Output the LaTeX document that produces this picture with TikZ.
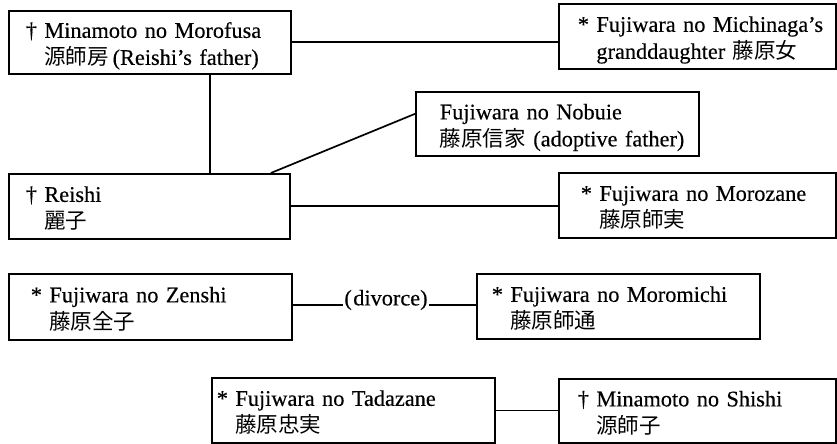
\documentclass[tikz,border=0pt]{standalone}
\usepackage{fontspec}
\setmainfont{Liberation Serif}[FakeBold=0.35]
\newfontfamily\cjkfont{Noto Sans CJK JP}
\newcommand\J[1]{{\cjkfont\fontsize{21.5bp}{27bp}\selectfont #1}}
\newcommand\topst{\rule{0pt}{24bp}}
\newcommand\botst{\rule[-6bp]{0pt}{6bp}}
\begin{document}
\begin{tikzpicture}[x=1bp,y=-1bp,
  person/.style n args={4}{draw, line width=1.7bp, rectangle, anchor=north west,
    inner xsep=#3, inner ysep=0pt, text width=#4, minimum height=#2, align=left,
    font=\fontsize{22.3bp}{27bp}\selectfont},
  link/.style={line width=1.7bp}]
\useasboundingbox (0,0) rectangle (837,444);
\node[person={282bp}{63bp}{17bp}{248bp}] (A) at (8,10)
  {\mbox{\topst† Minamoto no Morofusa}\\\mbox{\phantom{† }\J{源師房}\,(Reishi’s father)\botst}};
\node[person={277bp}{65bp}{19bp}{239bp}] (B) at (558,3)
  {\mbox{\topst* Fujiwara no Michinaga’s}\\\mbox{\phantom{* }granddaughter \J{藤原女}\botst}};
\node[person={283bp}{64bp}{24bp}{235bp}] (C) at (415,91)
  {\mbox{\topst Fujiwara no Nobuie}\\\mbox{\J{藤原信家} (adoptive father)\botst}};
\node[person={281bp}{65bp}{17bp}{247bp}] (D) at (8,173)
  {\mbox{\topst† Reishi}\\\mbox{\phantom{† }\J{麗子}\botst}};
\node[person={277bp}{65bp}{22bp}{233bp}] (E) at (558,172)
  {\mbox{\topst* Fujiwara no Morozane}\\\mbox{\phantom{* }\J{藤原師実}\botst}};
\node[person={283bp}{66bp}{22bp}{239bp}] (F) at (8,273)
  {\mbox{\topst* Fujiwara no Zenshi}\\\mbox{\phantom{* }\J{藤原全子}\botst}};
\node[person={283bp}{65bp}{15bp}{253bp}] (G) at (476,273)
  {\mbox{\topst* Fujiwara no Moromichi}\\\mbox{\phantom{* }\J{藤原師通}\botst}};
\node[person={283bp}{65bp}{5bp}{273bp}] (H) at (211,377)
  {\mbox{\topst* Fujiwara no Tadazane}\\\mbox{\phantom{* }\J{藤原忠実}\botst}};
\node[person={277bp}{64bp}{19bp}{239bp}] (I) at (558,378)
  {\mbox{\topst† Minamoto no Shishi}\\\mbox{\phantom{† }\J{源師子}\botst}};
\node[inner sep=1bp, font=\fontsize{22.3bp}{27bp}\selectfont] (L) at (386,300) {(\kern1.5bp divorce)};
% connectors
\draw[link] (A.east) -- (A.east -| B.west);
\draw[link] ([xshift=60bp]A.south) -- ([xshift=60bp]A.south |- D.north);
\draw[link] ([xshift=121.5bp]D.north) -- ([yshift=10bp]C.west);
\draw[link] (D.east) -- (D.east -| E.west);
\draw[link] ([yshift=2bp]F.east) -- ([yshift=2bp]F.east -| L.west);
\draw[link] ([yshift=2bp]F.east -| L.east) -- ([yshift=2bp]F.east -| G.west);
\draw[link] (H.east) -- (H.east -| I.west);
\end{tikzpicture}
\end{document}
